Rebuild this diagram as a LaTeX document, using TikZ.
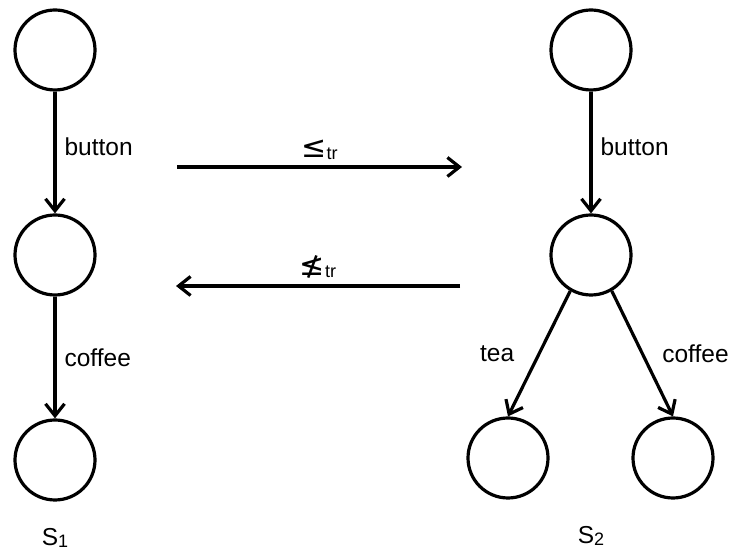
\documentclass[tikz,border=0pt]{standalone}
\usepackage{fontspec}
\setmainfont{Liberation Sans}
\newfontfamily\symfont{DejaVu Sans}
\usetikzlibrary{positioning,arrows.meta}

\newcommand{\lbl}{\fontsize{24.5}{28}\selectfont}
\newcommand{\sub}[1]{\raisebox{-2pt}{\fontsize{18}{18}\selectfont #1}}

\begin{document}
\begin{tikzpicture}[x=1pt,y=1pt,node distance=205pt,
    state/.style={circle,draw,line width=3.2pt,minimum size=80pt,inner sep=0pt},
    trans/.style={line width=3.2pt,-{Straight Barb[length=12pt,width=19pt,line width=3.2pt]}},
    font=\lbl]
  \useasboundingbox (0,0) rectangle (729,553);
  % S1
  \node[state] (L1) at (55,503) {};
  \node[state] (L2) [below of=L1] {};
  \node[state] (L3) [below of=L2] {};
  \draw[trans] (L1) -- (L2) node[pos=0.45,right,inner sep=8pt] {button};
  \draw[trans] (L2) -- (L3) node[pos=0.5,right,inner sep=8pt] {coffee};
  \node (S1) [below=27pt of L3,inner sep=0pt] {S\sub{1}};
  % S2
  \node[state] (R1) at (591,503) {};
  \node[state] (R2) [below of=R1] {};
  \node[state] (R3) at (508,95) {};
  \node[state] (R4) at (673,95) {};
  \draw[trans] (R1) -- (R2) node[pos=0.45,right,inner sep=8pt] {button};
  \draw[trans] (R2.-120) -- (R3.north) node[midway,left,xshift=-20pt] {tea};
  \draw[trans] (R2.-60) -- (R4.north) node[midway,right,xshift=15pt] {coffee};
  \node (S2) [below=27pt of R2|-R3.south,inner sep=0pt] {S\sub{2}};
  % relations
  \coordinate (T1) at (177,386);
  \coordinate (T2) at (462,386);
  \coordinate (B1) at (460,267);
  \coordinate (B2) at (176,267);
  \draw[trans] (T1) -- (T2) node[midway,above,inner sep=6pt] {{\symfont\fontsize{30}{30}\selectfont ≤}\sub{tr}};
  \draw[trans] (B1) -- (B2) node[midway,above,inner sep=6pt] {{\symfont\fontsize{30}{30}\selectfont ≰}\sub{tr}};
\end{tikzpicture}
\end{document}
